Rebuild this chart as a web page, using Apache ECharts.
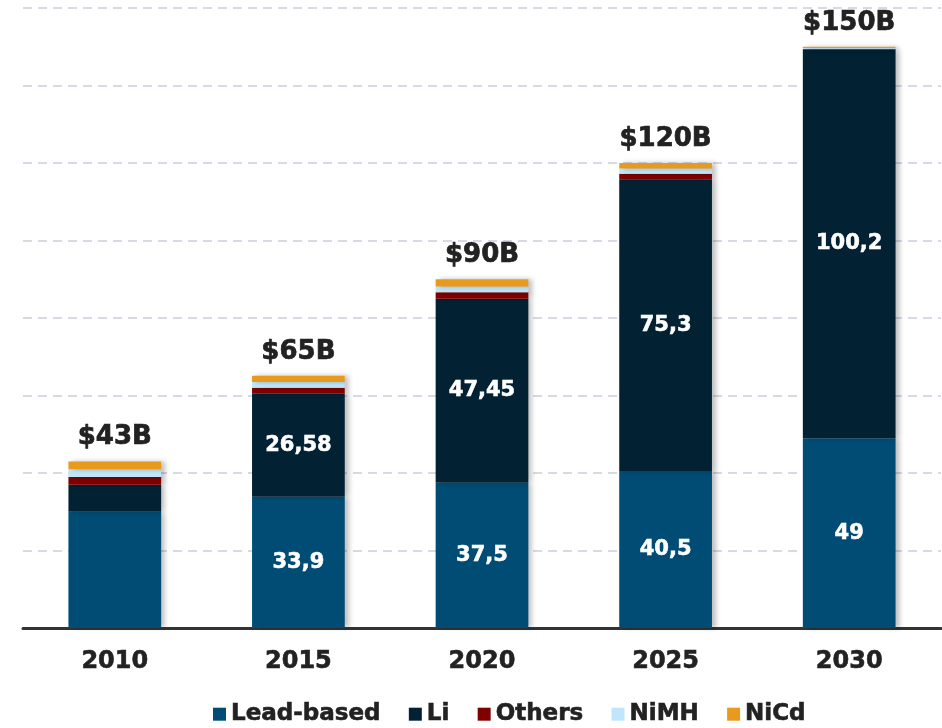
<!DOCTYPE html>
<html>
<head>
<meta charset="utf-8">
<script src="https://cdn.jsdelivr.net/npm/echarts@6/dist/echarts.min.js"></script>
<style>
  html, body { margin: 0; padding: 0; background: #fff; }
  #chart { width: 942px; height: 728px; }
</style>
</head>
<body>
<div id="chart"></div>
<script>
const years = ['2010', '2015', '2020', '2025', '2030']
const leadBased = [30, 33.9, 37.5, 40.5, 49]
const lithium = [7, 26.58, 47.45, 75.3, 100.2]
const others = [2, 1.5, 1.7, 1.4, 0.3]
const nimh = [2, 1.5, 1.5, 1.4, 0.2]
const nicd = [2, 1.6, 1.85, 1.4, 0.3]
const totals = ['$43B', '$65B', '$90B', '$120B', '$150B']

const font = 'DejaVu Sans, Verdana, sans-serif'
const shadow = { shadowColor: 'rgba(0,0,0,0.25)', shadowBlur: 5, shadowOffsetX: 4 }

function inner(values) {
  // 2010 segments carry no label in the original
  return values.map((v, i) => (i === 0 ? { value: v, label: { show: false } } : v))
}

function seg(name, data, color, labelled) {
  return {
    name,
    type: 'bar',
    stack: 'total',
    barWidth: '50.5%',
    data,
    itemStyle: Object.assign({ color }, shadow),
    label: {
      show: !!labelled,
      position: 'inside',
      color: '#fff',
      fontFamily: font,
      fontWeight: 'bold',
      fontSize: 21,
      textBorderColor: '#fff',
      textBorderWidth: 0.6,
      formatter: p => String(p.value).replace('.', ',')
    }
  }
}

const chart = echarts.init(document.getElementById('chart'))
chart.setOption({
  animation: false,
  grid: { left: 23, right: 1, top: 8, bottom: 100 },
  legend: {
    bottom: -3,
    left: 208,
    itemWidth: 13,
    itemHeight: 13,
    itemGap: 28,
    icon: 'rect',
    textStyle: {
      fontFamily: font, fontWeight: 'bold', fontSize: 23, color: '#222',
      textBorderColor: '#222', textBorderWidth: 0.6
    },
    data: ['Lead-based', 'Li', 'Others', 'NiMH', 'NiCd']
  },
  xAxis: {
    type: 'category',
    data: years,
    axisTick: { show: false },
    axisLine: { lineStyle: { color: '#333', width: 3 } },
    axisLabel: {
      margin: 22, fontFamily: font, fontWeight: 'bold', fontSize: 24, color: '#222',
      textBorderColor: '#222', textBorderWidth: 0.6
    }
  },
  yAxis: {
    type: 'value',
    min: 0,
    max: 160,
    interval: 20,
    axisLabel: { show: false },
    axisLine: { show: false },
    axisTick: { show: false },
    splitLine: { lineStyle: { color: '#d5dae5', width: 2, type: [9, 6] } }
  },
  series: [
    seg('Lead-based', inner(leadBased), '#004c74', true),
    seg('Li', inner(lithium), '#022234', true),
    seg('Others', others, '#800000', false),
    seg('NiMH', nimh, '#bfe6fa', false),
    Object.assign(seg('NiCd', nicd, '#e89a1d', false), {
      label: {
        show: true,
        position: 'top',
        distance: 11,
        color: '#222',
        fontFamily: font,
        fontWeight: 'bold',
        fontSize: 26,
        textBorderColor: '#222',
        textBorderWidth: 0.7,
        formatter: p => totals[p.dataIndex]
      }
    })
  ]
})
</script>
</body>
</html>
